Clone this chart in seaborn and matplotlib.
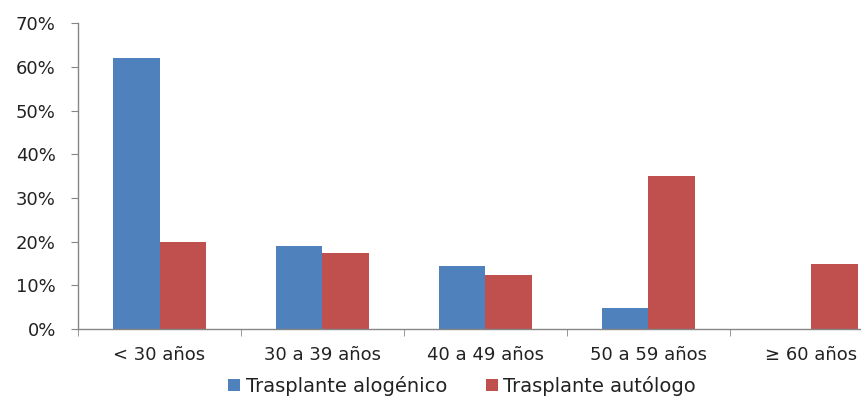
import pandas as pd
import matplotlib.pyplot as plt
import seaborn as sns
from matplotlib.ticker import FixedLocator, PercentFormatter

categories = ["< 30 años", "30 a 39 años", "40 a 49 años", "50 a 59 años", "≥ 60 años"]
alogenico = [62, 19, 14.4, 4.8, 0]
autologo = [20, 17.4, 12.4, 35, 15]
series = ["Trasplante alogénico", "Trasplante autólogo"]
colors = ["#4F81BD", "#C0504D"]

df = pd.DataFrame({
    "grupo": categories * 2,
    "serie": [series[0]] * len(categories) + [series[1]] * len(categories),
    "valor": alogenico + autologo,
})

sns.set_style("white")
plt.rcParams['font.family'] = ['DejaVu Sans']

fig = plt.figure(figsize=(8.62, 3.98), dpi=100)
ax = fig.add_axes([0.0905, 0.173, 0.9095, 0.769])

sns.barplot(data=df, x="grupo", y="valor", hue="serie", palette=colors,
            width=0.57, gap=0, ax=ax, saturation=1, edgecolor="none")

ax.set_ylim(0, 70)
ax.set_xlim(-0.5, 4.31)
ax.yaxis.set_major_locator(FixedLocator(range(0, 71, 10)))
ax.yaxis.set_major_formatter(PercentFormatter(decimals=0))
ax.xaxis.set_minor_locator(FixedLocator([i - 0.5 for i in range(6)]))

ax.set_xlabel("")
ax.set_ylabel("")
for side in ["top", "right"]:
    ax.spines[side].set_visible(False)
for side in ["left", "bottom"]:
    ax.spines[side].set_color("#868686")
    ax.spines[side].set_linewidth(1)

ax.tick_params(axis="y", which="major", left=True, length=5, color="#868686",
               labelsize=13, labelcolor="#222222", pad=11)
ax.tick_params(axis="x", which="major", bottom=False, length=0,
               labelsize=13, labelcolor="#222222", pad=12)
ax.tick_params(axis="x", which="minor", bottom=True, length=5, color="#868686")

ax.legend(loc="center", bbox_to_anchor=(0.49, -0.186), ncol=2, frameon=False,
          fontsize=14, handlelength=0.6, handleheight=0.6, handletextpad=0.3,
          columnspacing=2.0, labelcolor="#222222")

plt.savefig("out.png", dpi=100)
